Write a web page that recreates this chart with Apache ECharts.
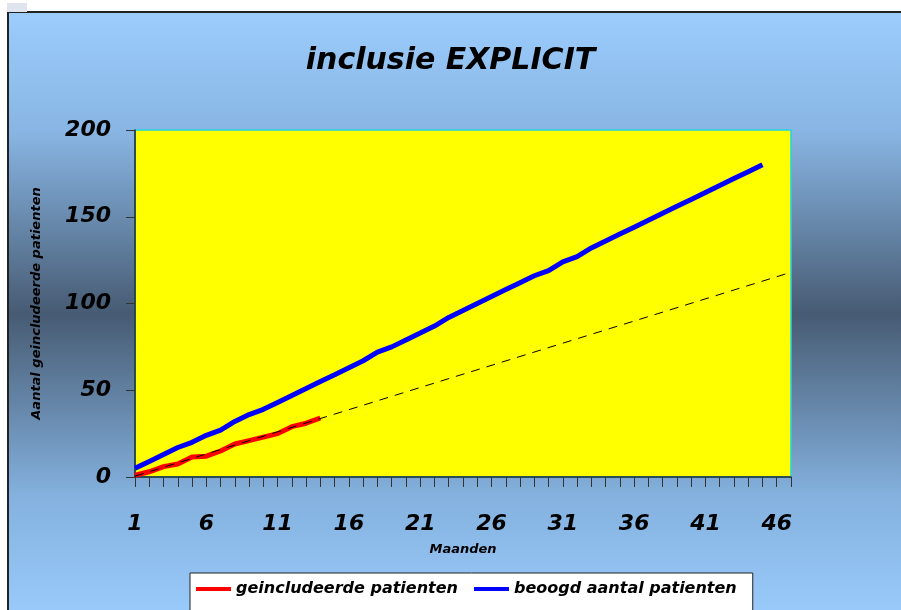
<!DOCTYPE html>
<html><head><meta charset="utf-8">
<script src="https://cdn.jsdelivr.net/npm/echarts@6/dist/echarts.min.js"></script>
<style>html,body{margin:0;padding:0;background:#fff;}#c{width:901px;height:610px;}</style>
</head><body><div id="c"></div>
<script>
var months = [];
for (var i = 1; i <= 47; i++) months.push(i);
var redValues = [1, 3, 6, 7.5, 11.5, 12, 15, 19, 21, 23, 25, 29, 31, 34];
var blueValues = [5, 9, 13, 17, 20, 24, 27, 32, 36, 39, 43, 47, 51, 55, 59, 63, 67, 72, 75, 79, 83, 87, 92, 96, 100, 104, 108, 112, 116, 119, 124, 127, 132, 136, 140, 144, 148, 152, 156, 160, 164, 168, 172, 176, 180];
var trendMonths = [1, 47];
var trendValues = [0.5, 118];
var yTicks = [0, 50, 100, 150, 200];
var seriesNames = ['geincludeerde patienten', 'beoogd aantal patienten'];

var font = "'Comic Sans MS', 'DejaVu Sans', sans-serif";
function pairs(xs, ys) { return ys.map(function (v, i) { return [xs[i], v]; }); }

var chart = echarts.init(document.getElementById('c'));
chart.setOption({
  backgroundColor: '#ffffff',
  animation: false,
  graphic: [
    { type: 'rect', z: -10, shape: { x: 8, y: 12, width: 900, height: 604 },
      style: { fill: new echarts.graphic.LinearGradient(0, 0, 0, 1, [
        { offset: 0, color: '#9ccdfd' },
        { offset: 0.2, color: '#88b5e3' },
        { offset: 0.5, color: '#475b73' },
        { offset: 0.8, color: '#84b1de' },
        { offset: 1, color: '#9acbfc' }
      ]), stroke: '#222', lineWidth: 2 } },
    { type: 'rect', z: -9, shape: { x: 7, y: 3, width: 20, height: 9 }, style: { fill: '#dfe4ef' } },
    { type: 'rect', z: 0, shape: { x: 135, y: 130, width: 656, height: 347 },
      style: { fill: 'none', stroke: '#22d3e0', lineWidth: 1.5 } },
    { type: 'text', left: 'center', top: 46, style: { text: 'inclusie EXPLICIT', x: 460, font: 'italic bold 30px ' + font, fill: '#000' } }
  ],
  grid: { left: 135, top: 130, width: 656, height: 347, show: true, backgroundColor: '#ffff00', borderWidth: 0 },
  legend: {
    left: 190, top: 573,
    backgroundColor: '#ffffff', borderColor: '#222', borderWidth: 1, padding: [8, 16, 20, 6],
    itemWidth: 35, itemHeight: 4, itemGap: 16, icon: 'rect',
    data: seriesNames,
    textStyle: { fontFamily: font, fontStyle: 'italic', fontWeight: 'bold', fontSize: 16, color: '#000' }
  },
  xAxis: {
    type: 'value', min: 1, max: 47, interval: 1,
    name: 'Maanden', nameLocation: 'middle', nameGap: 66,
    nameTextStyle: { fontFamily: font, fontStyle: 'italic', fontWeight: 'bold', fontSize: 13, color: '#000' },
    axisLine: { lineStyle: { color: '#223', width: 1.5 } },
    axisTick: { length: 10, lineStyle: { color: '#333' } },
    splitLine: { show: false },
    axisLabel: {
      margin: 36, fontFamily: font, fontStyle: 'italic', fontWeight: 'bold', fontSize: 22, color: '#000',
      formatter: function (v) { return months.indexOf(v) >= 0 && (v - 1) % 5 === 0 ? String(v) : ''; }
    }
  },
  yAxis: {
    type: 'value', min: yTicks[0], max: yTicks[yTicks.length - 1], interval: 50,
    name: 'Aantal geincludeerde patienten', nameLocation: 'middle', nameGap: 92, nameRotate: 90,
    nameTextStyle: { fontFamily: font, fontStyle: 'italic', fontWeight: 'bold', fontSize: 13, color: '#000' },
    axisLine: { show: true, lineStyle: { color: '#223', width: 1.5 } },
    axisTick: { show: true, length: 9, lineStyle: { color: '#333' } },
    splitLine: { show: false },
    axisLabel: { margin: 24, fontFamily: font, fontStyle: 'italic', fontWeight: 'bold', fontSize: 22, color: '#000' }
  },
  series: [
    { name: seriesNames[0], type: 'line', data: pairs(months, redValues), showSymbol: false, symbol: 'none',
      lineStyle: { color: '#ff0000', width: 5 }, itemStyle: { color: '#ff0000' }, z: 3 },
    { name: seriesNames[1], type: 'line', data: pairs(months, blueValues), showSymbol: false, symbol: 'none',
      lineStyle: { color: '#0000ff', width: 5 }, itemStyle: { color: '#0000ff' }, z: 3 },
    { name: 'trend', type: 'line', data: pairs(trendMonths, trendValues), showSymbol: false, symbol: 'none',
      lineStyle: { color: '#000', width: 1, type: [9, 7] }, z: 5, silent: true }
  ]
});
</script></body></html>
